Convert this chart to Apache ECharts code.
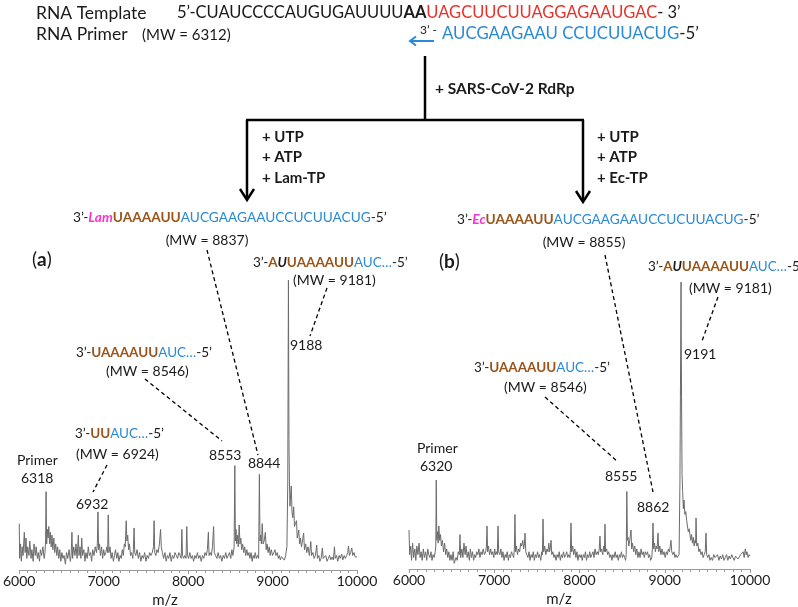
<!DOCTYPE html>
<html><head><meta charset="utf-8">
<script src="https://cdn.jsdelivr.net/npm/echarts@6/dist/echarts.min.js"></script>
<style>html,body{margin:0;padding:0;background:#fff}#c{width:798px;height:607px}</style>
</head><body><div id="c"></div>
<script>
// m/z axis
const mzMin = 6000, mzMax = 10000, mzStep = 1000;
// Spectrum (a): Lam-TP reaction, [m/z, relative intensity]
const spectrumA = [[6000,16],[6005,4],[6015,9],[6025,3],[6035,8],[6045,5],[6060,13],[6070,6],[6080,11],[6090,4],[6100,8],[6115,5],[6125,10],[6140,4],[6150,7],[6165,3],[6175,9],[6190,5],[6200,8],[6215,4],[6225,6],[6240,3],[6250,7],[6265,5],[6280,8],[6295,4],[6305,6],[6312,10],[6318,27],[6325,9],[6333,14],[6342,11],[6350,15],[6360,9],[6368,13],[6378,8],[6388,12],[6398,7],[6410,11],[6420,6],[6432,9],[6445,5],[6455,8],[6468,4],[6480,7],[6492,3],[6505,6],[6518,4],[6530,5],[6547,2],[6560,6],[6575,4],[6590,7],[6605,3],[6615,5],[6624,13],[6632,4],[6645,8],[6660,5],[6672,9],[6685,4],[6700,12],[6708,5],[6720,8],[6730,4],[6740,11],[6750,5],[6765,7],[6778,3],[6790,6],[6805,4],[6818,8],[6830,5],[6845,6],[6857,3],[6870,7],[6885,5],[6900,8],[6915,6],[6925,9],[6932,20],[6940,7],[6950,9],[6962,5],[6975,8],[6988,4],[7000,7],[7012,5],[7025,6],[7038,8],[7047,6],[7054,19],[7062,6],[7075,8],[7088,4],[7100,6],[7115,3],[7128,5],[7140,7],[7155,4],[7168,6],[7180,3],[7195,5],[7208,4],[7220,7],[7232,5],[7245,9],[7255,8],[7267,17],[7275,10],[7285,12],[7295,7],[7305,9],[7318,5],[7330,6],[7345,4],[7352,7],[7360,14.5],[7368,6],[7380,5],[7395,7],[7410,4],[7425,6],[7440,3],[7455,5],[7470,4],[7485,6],[7500,3],[7515,5],[7530,4],[7545,6],[7560,5],[7575,6],[7590,8],[7597,17],[7605,6],[7618,5],[7630,7],[7645,6],[7660,9],[7674,14],[7682,8],[7695,6],[7710,4],[7725,6],[7740,3],[7755,5],[7770,4],[7785,6],[7800,3],[7815,5],[7830,4],[7845,6],[7860,5],[7875,4],[7890,6],[7905,5],[7918,4],[7926,14],[7934,5],[7948,4],[7960,5],[7975,4],[7984,15],[7992,5],[8005,4],[8020,6],[8035,4],[8050,5],[8065,3],[8080,5],[8095,4],[8110,6],[8125,4],[8140,5],[8155,3],[8170,5],[8185,4],[8200,6],[8215,5],[8228,7],[8240,13],[8248,5],[8262,6],[8275,5],[8288,8],[8302,15],[8310,6],[8325,5],[8340,4],[8355,6],[8370,4],[8385,5],[8400,3],[8415,5],[8430,4],[8445,6],[8460,4],[8475,5],[8490,6],[8505,4],[8518,7],[8530,5],[8545,8],[8553,36],[8560,10],[8567,14],[8575,9],[8585,12],[8594,8],[8605,15.5],[8614,9],[8624,11],[8634,7],[8645,9],[8658,6],[8670,8],[8682,5],[8695,7],[8708,5],[8720,6],[8732,4],[8745,6],[8758,3],[8770,5],[8782,4],[8795,6],[8808,4],[8820,5],[8835,4],[8844,33],[8851,10],[8860,12],[8868,9],[8878,16],[8888,9],[8900,10],[8915,13],[8924,7],[8935,9],[8947,6],[8960,8],[8972,5],[8985,7],[9000,5],[9015,6],[9028,7],[9040,5],[9055,6],[9068,4],[9080,5],[9092,3.5],[9105,4.6],[9120,4],[9140,3.4],[9155,5],[9170,8],[9180,30],[9188,100],[9194,45],[9200,30],[9206,22],[9214,26],[9222,29],[9230,20],[9240,18],[9250,21.8],[9260,15],[9270,16],[9284,17],[9292,11],[9300,12],[9310,13.8],[9320,9],[9330,11],[9342,8],[9354,10],[9368,12.7],[9378,7],[9392,9],[9405,6],[9420,8],[9436,5],[9453,9.8],[9462,5],[9478,6],[9492,4],[9508,5],[9523,8.6],[9532,4],[9548,5],[9560,3],[9575,4],[9590,7.6],[9600,4],[9615,3.5],[9630,5],[9645,3],[9660,4],[9675,5],[9690,3.5],[9705,4.5],[9720,3.5],[9733,8],[9742,4],[9758,5],[9772,3],[9788,5],[9802,4],[9818,5.5],[9832,3.5],[9848,5],[9862,4],[9878,5],[9890,6],[9899,8.3],[9910,5],[9925,6],[9938,7.6],[9950,5],[9965,6],[9978,4.5],[9988,4.1],[10000,4.5]];
// Spectrum (b): Ec-TP reaction, [m/z, relative intensity]
const spectrumB = [[6000,13.6],[6008,5],[6020,8],[6030,3],[6042,9],[6055,4],[6068,7],[6080,3],[6092,8],[6105,5],[6118,9],[6130,4],[6142,6],[6155,3],[6168,7],[6180,4],[6195,6],[6208,3],[6220,7],[6232,5],[6245,4],[6258,6],[6270,3],[6282,5],[6295,4],[6308,6],[6314,8],[6320,31],[6326,10],[6334,13],[6342,9],[6350,15],[6360,10],[6370,12],[6380,8],[6392,10],[6405,6],[6418,9],[6430,5],[6442,7],[6455,4],[6468,6],[6480,3],[6492,5],[6505,3],[6518,6],[6530,2],[6540,1.4],[6552,4],[6565,3],[6578,6],[6590,5],[6598,12],[6606,4],[6620,7],[6632,4],[6645,9],[6658,5],[6670,8],[6682,4],[6695,6],[6708,3],[6720,7],[6732,4],[6745,6],[6758,3],[6770,5],[6782,4],[6795,6],[6808,5],[6820,7],[6832,4],[6845,6],[6858,5],[6870,7],[6885,5],[6900,6],[6908,8],[6915,15],[6922,6],[6932,8],[6945,5],[6958,7],[6970,5],[6982,6],[6995,4],[7005,7],[7015,5],[7028,6],[7036,5],[7044,15],[7052,6],[7065,5],[7078,7],[7090,4],[7102,6],[7115,3],[7128,5],[7140,4],[7152,6],[7165,3],[7178,5],[7190,4],[7202,6],[7215,5],[7228,4],[7236,7],[7243,19],[7250,6],[7260,8],[7272,5],[7285,7],[7298,6],[7310,9],[7322,8],[7335,10],[7345,7],[7355,9],[7361,12.5],[7370,6],[7382,5],[7395,4],[7408,6],[7420,3],[7432,5],[7445,4],[7458,6],[7470,3],[7482,5],[7495,4],[7508,6],[7520,4],[7532,5],[7545,3],[7558,6],[7565,5],[7572,17.4],[7580,6],[7592,8],[7605,5],[7618,7],[7630,6],[7640,9],[7650,6],[7660,8],[7666,10],[7675,5],[7688,6],[7700,4],[7712,5],[7725,3],[7738,5],[7750,4],[7762,6],[7775,3],[7788,5],[7800,4],[7812,6],[7825,4],[7838,5],[7850,6],[7862,4],[7875,5],[7888,4],[7894,7],[7900,16],[7908,6],[7920,8],[7932,5],[7945,7],[7958,4],[7970,6],[7982,3],[7995,5],[8008,4],[8020,5],[8032,3],[8045,5],[8058,4],[8070,6],[8082,3],[8095,5],[8108,4],[8120,6],[8132,4],[8145,5],[8158,6],[8170,4],[8182,7],[8195,5],[8208,6],[8220,5],[8232,7],[8240,11.5],[8248,6],[8260,7],[8272,5],[8285,8],[8292,6],[8299,15.6],[8306,6],[8318,7],[8330,5],[8342,6],[8355,4],[8368,5],[8380,3],[8392,5],[8405,4],[8418,6],[8430,4],[8442,5],[8455,3],[8468,5],[8480,4],[8492,6],[8505,4],[8518,5],[8530,4],[8540,3],[8548,5],[8555,27],[8562,10],[8570,11],[8578,8],[8590,10],[8604,13.6],[8612,7],[8622,9],[8635,6],[8648,8],[8660,5],[8672,7],[8685,4],[8698,6],[8710,4],[8722,7],[8735,5],[8748,6],[8760,4],[8772,6],[8785,5],[8798,6],[8810,4],[8822,5],[8835,3],[8848,4],[8855,7],[8862,16],[8870,7],[8880,9],[8890,6],[8900,8],[8910,7],[8921,12.5],[8930,6],[8942,8],[8955,5],[8968,7],[8980,5],[8992,6],[9005,4],[9018,6],[9030,5],[9042,7],[9055,6],[9065,8],[9073,10],[9082,6],[9095,5],[9108,6],[9120,4],[9132,5],[9145,4],[9158,3.5],[9168,5],[9178,30],[9191,100],[9197,60],[9203,33],[9210,27],[9218,21],[9226,24],[9236,19],[9246,20],[9257,17],[9266,15],[9276,13],[9286,14],[9296,14.6],[9305,10],[9315,12],[9325,9],[9335,11],[9345,8],[9355,10],[9362,9],[9367,17.8],[9375,8],[9388,9],[9400,6],[9412,7],[9425,5],[9438,6],[9450,4],[9462,5],[9475,6],[9484,12.5],[9492,5],[9505,4],[9518,5],[9530,3],[9545,4],[9560,3],[9575,5],[9590,4],[9605,3.5],[9620,5],[9635,3],[9650,4.5],[9665,3.5],[9680,5],[9695,3],[9710,4],[9725,5],[9740,3],[9755,4.5],[9770,3.5],[9785,5],[9800,4],[9815,3],[9830,4.5],[9845,5],[9860,3.5],[9875,4],[9890,5],[9905,4.5],[9920,6],[9932,4],[9945,7],[9955,5],[9965,6],[9978,4],[9990,5],[10000,4.5]];

const FF = 'Lato, "Open Sans", sans-serif';
const K = '#1a1a1a', BROWN = '#9b5419', BLUE = '#2a8ad4', RED = '#e8312b', MAG = '#ff33cc';

const chart = echarts.init(document.getElementById('c'), null, {renderer:'canvas'});

function xAxis(gi){
  return {type:'value', gridIndex:gi, min:mzMin, max:mzMax, interval:mzStep,
    axisLine:{show:true, lineStyle:{color:'#9a9a9a', width:1}},
    axisTick:{show:true, length:4, lineStyle:{color:'#9a9a9a'}},
    minorTick:{show:true, splitNumber:10, length:3, lineStyle:{color:'#9a9a9a'}},
    splitLine:{show:false},
    axisLabel:{color:K, fontSize:14, fontFamily:FF, margin:4, formatter:(v)=>String(v)}};
}
function yAxis(gi){
  return {type:'value', gridIndex:gi, min:0, max:100, show:false, splitLine:{show:false}};
}

function T(x, y, text, o){
  o = o || {};
  return {type:'text', x:x, y:y, silent:true, style:Object.assign({text:text, fill:K,
    fontFamily:FF, fontSize:o.size||14, fontWeight:o.weight||'normal', fontStyle:o.style||'normal',
    align:o.align||'left', verticalAlign:'middle'}, o.rich?{rich:o.rich}:{})};
}
function L(x1,y1,x2,y2,o){
  o = o || {};
  return {type:'line', silent:true, shape:{x1:x1,y1:y1,x2:x2,y2:y2},
    style:{stroke:o.color||'#000', lineWidth:o.w||1.3, lineDash:o.dash||null}};
}
function P(pts,o){
  o = o||{};
  return {type:'polyline', silent:true, shape:{points:pts}, style:{stroke:o.color||'#000', lineWidth:o.w||2.5, fill:null}};
}
const D = [4,3];
function rs(fill, size, weight, style){ return {fill:fill, fontSize:size, fontFamily:FF, fontWeight:weight||'normal', fontStyle:style||'normal'}; }
const seqRich = (s) => ({k:rs(K,s), m:rs(MAG,s,'bold','italic'), br:rs(BROWN,s,'bold'), bl:rs(BLUE,s), ki:rs(K,s,'bold','italic')});

const g = [];
// header
g.push(T(36, 13, 'RNA Template', {size:17.5}));
g.push(T(177, 13, '{n|5’-CUAUCCCCAUGUGAUUUU}{b|AA}{r|UAGCUUCUUAGGAGAAUGAC}{n|- 3’}', {size:16.5,
  rich:{n:rs(K,16.5), b:rs(K,16.5,'bold'), r:rs(RED,16.5)}}));
g.push(T(36, 34, 'RNA Primer', {size:17.5}));
g.push(T(142, 35, '(MW = 6312)', {size:15}));
g.push(T(420, 30, '3’ -', {size:12}));
g.push(T(442, 34, '{bl|AUCGAAGAAU CCUCUUACUG}{k|-5’}', {size:16.8, rich:{bl:rs(BLUE,16.8), k:rs(K,16.8)}}));
g.push(L(410, 41, 434, 41, {color:BLUE, w:2}));
g.push(P([[416,36.5],[410,41],[416,45.5]], {color:BLUE, w:2}));
// flow lines
g.push(L(425, 56, 425, 121, {w:2.5}));
g.push(L(246, 120, 584, 120, {w:2.5}));
g.push(L(247, 120, 247, 199, {w:2.5}));
g.push(L(583, 120, 583, 201, {w:2.5}));
g.push(P([[240,189],[247,200],[254,189]]));
g.push(P([[576,191],[583,202],[590,191]]));
g.push(T(435, 89, '+ SARS-CoV-2 RdRp', {size:15.5, weight:'bold'}));
[['+ UTP',137],['+ ATP',157],['+ Lam-TP',178]].forEach(a=>g.push(T(262, a[1], a[0], {size:15, weight:'bold'})));
[['+ UTP',137],['+ ATP',157],['+ Ec-TP',178]].forEach(a=>g.push(T(597, a[1], a[0], {size:15, weight:'bold'})));

// panel (a)
g.push(T(73, 218, '{k|3’-}{m|Lam}{br|UAAAAUU}{bl|AUCGAAGAAUCCUCUUACUG}{k|-5’}', {rich:seqRich(13.7)}));
g.push(T(207, 240, '(MW = 8837)', {align:'center'}));
g.push(T(32, 260, '{n|(}{b|a}{n|)}', {size:19, rich:{n:rs(K,19), b:rs(K,19,'bold')}}));
g.push(T(253, 263, '{k|3’-}{br|A}{ki|U}{br|UAAAAUU}{bl|AUC…}{k|-5’}', {rich:seqRich(13.5)}));
g.push(T(293, 280, '(MW = 9181)'));
g.push(T(290, 345, '9188'));
g.push(T(76, 353, '{k|3’-}{br|UAAAAUU}{bl|AUC…}{k|-5’}', {rich:seqRich(13.5)}));
g.push(T(106, 371, '(MW = 8546)'));
g.push(T(75, 434, '{k|3’-}{br|UU}{bl|AUC…}{k|-5’}', {rich:seqRich(13.5)}));
g.push(T(76, 454, '(MW = 6924)'));
g.push(T(209, 455, '8553'));
g.push(T(248, 463, '8844'));
g.push(T(17, 460, 'Primer'));
g.push(T(21, 478, '6318'));
g.push(T(76, 504, '6932'));
g.push(L(207, 250, 258, 455, {dash:D}));
g.push(L(327, 288, 310, 336, {dash:D}));
g.push(L(145, 379, 222, 441, {dash:D}));
g.push(L(107, 465, 93, 492, {dash:D}));
g.push(T(165, 600, 'm/z', {size:15, align:'center'}));

// panel (b)
g.push(T(457, 220, '{k|3’-}{m|Ec}{br|UAAAAUU}{bl|AUCGAAGAAUCCUCUUACUG}{k|-5’}', {rich:seqRich(13.7)}));
g.push(T(584, 242, '(MW = 8855)', {align:'center'}));
g.push(T(439, 262, '{n|(}{b|b}{n|)}', {size:19, rich:{n:rs(K,19), b:rs(K,19,'bold')}}));
g.push(T(648, 267, '{k|3’-}{br|A}{ki|U}{br|UAAAAUU}{bl|AUC…}{k|-5’}', {rich:seqRich(13.5)}));
g.push(T(689, 288, '(MW = 9181)'));
g.push(T(684, 354, '9191'));
g.push(T(474, 368, '{k|3’-}{br|UAAAAUU}{bl|AUC…}{k|-5’}', {rich:seqRich(13.5)}));
g.push(T(504, 387, '(MW = 8546)'));
g.push(T(605, 476, '8555'));
g.push(T(637, 507, '8862'));
g.push(T(417, 448, 'Primer'));
g.push(T(420, 466, '6320'));
g.push(L(605, 255, 653, 492, {dash:D}));
g.push(L(718, 297, 702, 341, {dash:D}));
g.push(L(545, 397, 618, 462, {dash:D}));
g.push(T(559, 599, 'm/z', {size:15, align:'center'}));

chart.setOption({
  animation:false,
  backgroundColor:'#fff',
  grid:[{left:13, width:344, top:280, height:290},{left:409, width:341, top:282, height:287}],
  xAxis:[xAxis(0), xAxis(1)],
  yAxis:[yAxis(0), yAxis(1)],
  series:[
    {type:'line', xAxisIndex:0, yAxisIndex:0, data:spectrumA, showSymbol:false, silent:true,
      lineStyle:{color:'#6b6b6b', width:1}},
    {type:'line', xAxisIndex:1, yAxisIndex:1, data:spectrumB, showSymbol:false, silent:true,
      lineStyle:{color:'#6b6b6b', width:1}}
  ],
  graphic:g
});
</script></body></html>
